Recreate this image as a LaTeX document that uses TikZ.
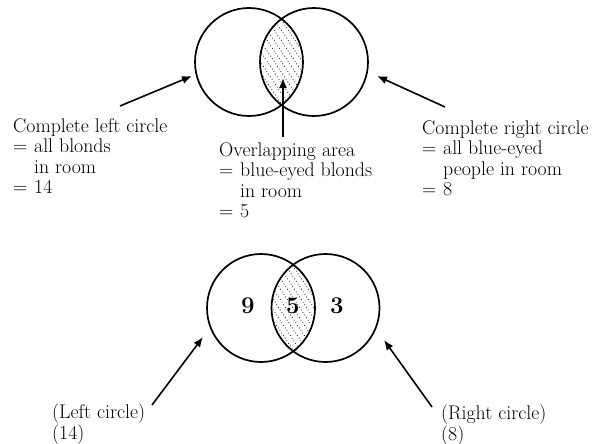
\documentclass[tikz,border=0pt]{standalone}
\usetikzlibrary{arrows.meta}
\tikzset{
  venn/.style={draw, circle, line width=1.7pt, minimum size=108pt, inner sep=0pt, outer sep=0pt},
  lbl/.style={align=left, anchor=base west, inner sep=0pt, font=\fontsize{19.8}{20.5}\selectfont},
  num/.style={font=\fontsize{24}{24}\selectfont\bfseries, inner sep=0pt},
  pointer/.style={line width=1.6pt, -{Latex[length=10pt,width=8pt]}},
  hatch/.style={line width=0.6pt, dash pattern=on 0.9pt off 2.2pt},
}
\newcommand{\eqhang}{\makebox[21pt][l]{=}}
\newcommand{\hang}{\hspace*{21pt}}
\begin{document}
\begin{tikzpicture}[x=1pt,y=-1pt]
\useasboundingbox (0,0) rectangle (597,444);

% ---------- top diagram ----------
\begin{scope}
  \clip (249,62) circle[radius=54pt];
  \clip (314,62) circle[radius=54pt];
  \foreach \k in {-14,...,14}
    \draw[hatch] (281.5+\k*7-42,-1) -- (281.5+\k*7+42,125);
\end{scope}
\node[venn] (L1) at (249,62) {};
\node[venn] (R1) at (314,62) {};

% base anchor = baseline of the last line
\node[lbl] (tL1) at (13,193.5) {Complete left circle\\\eqhang all blonds\\\hang in room\\\eqhang 14};
\node[lbl] (tM1) at (219,217.5) {Overlapping area\\\eqhang blue-eyed blonds\\\hang in room\\\eqhang 5};
\node[lbl] (tR1) at (422,195.5) {Complete right circle\\\eqhang all blue-eyed\\\hang people in room\\\eqhang 8};

\coordinate (aL1) at (120,106);
\coordinate (pL1) at (192,76);
\coordinate (aM1) at (283,137);
\coordinate (pM1) at (283,78);
\coordinate (aR1) at (445,107);
\coordinate (pR1) at (377,76);
\draw[pointer] (aL1) -- (pL1);
\draw[pointer] (aM1) -- (pM1);
\draw[pointer] (aR1) -- (pR1);

% ---------- bottom diagram ----------
\begin{scope}
  \clip (261,308) circle[radius=54pt];
  \clip (325.5,308) circle[radius=54pt];
  \foreach \k in {-14,...,14}
    \draw[hatch] (293+\k*7-42,245) -- (293+\k*7+42,371);
\end{scope}
\node[venn] (L2) at (261,308) {};
\node[venn] (R2) at (325.5,308) {};

\node[num] (n9) at (248,306) {9};
\node[num] (n5) at (293,306) {5};
\node[num] (n3) at (337,306) {3};

\node[lbl] (tL2) at (52,439) {(Left circle)\\(14)};
\node[lbl] (tR2) at (441,440) {(Right circle)\\(8)};

\coordinate (aL2) at (152,405);
\coordinate (pL2) at (203,337);
\coordinate (aR2) at (432,407);
\coordinate (pR2) at (384,340);
\draw[pointer] (aL2) -- (pL2);
\draw[pointer] (aR2) -- (pR2);
\end{tikzpicture}
\end{document}
